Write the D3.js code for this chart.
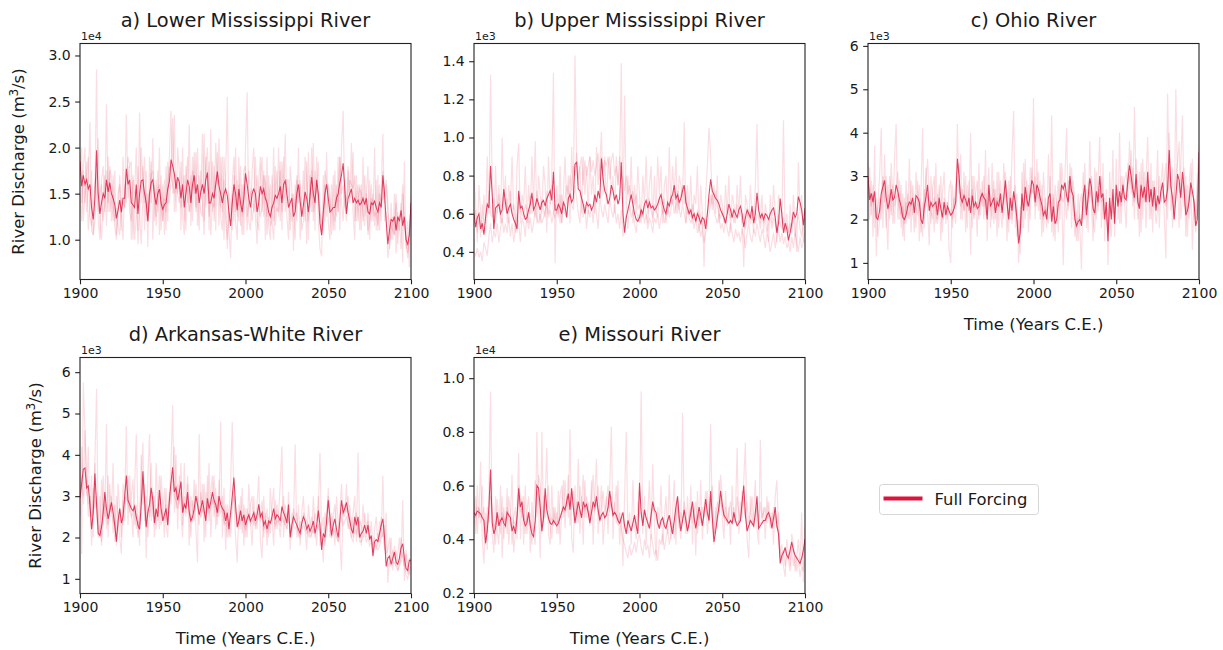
<!DOCTYPE html>
<html>
<head>
<meta charset="utf-8">
<script src="https://cdn.jsdelivr.net/npm/d3@7"></script>
<style>
  body { margin: 0; background: #fff; }
  text { font-family: "DejaVu Sans", sans-serif; fill: #1a1a1a; }
</style>
</head>
<body>
<svg id="fig" width="1223" height="650"></svg>
<script>
// annual values, 1900..2100 (201 per series)
const years = d3.range(1900, 2101);

// a) Lower Mississippi, units of 100 m3/s
const lowerMean = [
185,158,170,160,165,155,160,135,122,145,
197,150,128,140,150,145,165,152,162,150,
145,138,123,132,143,130,145,145,177,160,
165,140,138,135,160,128,150,164,165,150,
140,120,150,162,165,148,138,150,155,140,
133,138,140,155,163,187,180,172,155,168,
162,145,160,135,150,165,158,140,160,170,
150,160,140,152,160,150,165,173,140,140,
150,145,160,174,158,150,140,150,155,148,
130,115,140,160,150,132,155,140,130,145,
172,160,145,135,150,155,150,130,140,158,
150,155,145,140,130,125,135,140,148,145,
150,158,140,160,164,150,135,140,145,125,
130,150,160,142,125,138,152,145,130,148,
168,150,140,165,150,118,105,130,150,160,
145,130,132,135,135,145,150,162,170,183,
155,128,145,150,155,140,145,140,143,138,
140,145,138,145,130,128,140,138,142,135,
130,140,135,170,150,120,95,110,122,120,
125,110,125,120,132,115,125,100,95,105,
140];
const lowerRun1 = [
195,140,180,200,130,160,228,110,105,150,
285,120,100,165,180,130,247,140,175,120,
170,115,100,150,160,110,190,135,236,145,
180,100,170,150,200,110,238,140,180,110,
175,92,190,140,210,120,165,130,200,110,
160,105,180,120,190,240,150,235,130,200,
175,110,200,120,180,140,225,115,190,150,
195,115,170,150,215,120,180,200,110,220,
130,180,110,195,150,135,190,100,170,255,
110,80,160,190,120,100,190,115,160,105,
200,260,120,110,175,200,125,95,165,190,
130,175,100,190,115,100,170,120,180,130,
200,120,185,150,215,125,100,180,155,88,
160,120,200,100,140,175,120,185,100,170,
130,205,110,190,120,90,82,170,120,195,
120,100,160,110,175,125,190,110,200,240,
140,120,180,140,205,130,100,170,120,160,
110,190,125,150,180,100,160,120,200,110,
170,110,150,215,120,130,80,95,140,100,
150,85,130,110,140,75,185,90,120,70,
150];
const lowerRun2 = [
170,200,120,150,185,110,140,175,105,120,
150,210,120,100,140,170,115,190,130,150,
120,175,105,125,170,130,100,160,140,180,
130,120,165,100,125,180,130,95,150,190,
120,150,130,185,100,160,125,175,105,170,
120,165,110,185,140,165,232,130,170,150,
140,185,125,105,160,190,130,170,120,195,
130,155,110,175,140,105,190,160,125,150,
185,120,165,175,115,190,130,165,120,100,
150,140,110,170,130,165,120,180,125,160,
145,110,175,150,120,135,190,120,110,165,
190,125,170,105,140,160,120,100,150,175,
125,175,110,190,130,165,145,110,150,140,
100,170,140,165,110,120,190,160,120,140,
200,120,175,150,185,130,120,105,160,125,
160,150,105,170,120,160,130,190,140,120,
165,130,175,145,150,195,120,145,160,110,
160,120,170,140,110,165,120,150,115,165,
110,160,120,175,140,160,130,115,100,125,
105,140,95,120,90,150,115,100,85,110,
135];
const lowerRun3 = [
150,120,175,140,170,190,125,115,140,160,
175,130,150,160,120,140,175,130,180,165,
140,120,135,115,105,145,140,135,165,190,
180,185,100,150,155,95,130,200,165,140,
150,120,140,170,175,150,115,155,160,140,
120,145,130,160,180,170,160,150,165,150,
165,135,155,170,110,155,130,140,175,160,
135,200,145,130,125,215,135,160,185,105,
140,135,205,160,210,125,110,190,155,90,
130,125,150,120,200,125,160,130,105,175,
180,125,140,150,155,130,145,170,140,125,
135,170,160,125,170,115,120,200,115,135,
130,185,130,145,150,165,165,130,120,150,
135,165,145,160,130,125,150,95,195,135,
175,130,140,160,145,135,110,120,175,160,
155,140,130,130,110,150,130,190,150,160,
135,145,150,165,160,155,170,120,145,155,
150,130,115,150,105,120,145,140,125,130,
115,150,140,145,155,165,140,90,115,110,
105,150,110,125,130,160,120,100,80,105,
140];

// b) Upper Mississippi, units of 10 m3/s
const upperMean = [
60,53,58,60,52,55,49,58,65,63,
85,70,52,63,64,65,60,62,73,66,
60,63,65,60,57,55,52,72,63,64,
60,57,58,62,65,71,62,64,68,65,
62,66,67,64,68,70,72,67,82,62,
62,65,63,60,66,64,58,68,70,66,
68,86,87,73,72,68,65,60,66,64,
65,62,64,70,66,72,68,89,78,72,
70,65,68,75,72,67,70,65,68,87,
60,50,58,62,66,70,65,60,57,56,
58,62,60,65,67,63,66,63,64,62,
63,65,68,70,65,62,60,66,64,68,
70,75,68,70,66,68,72,75,66,63,
60,62,58,60,56,60,58,55,58,57,
52,60,70,78,72,70,68,67,65,62,
60,58,55,60,65,62,58,62,60,58,
62,64,60,53,58,62,60,58,64,55,
60,71,62,58,60,57,60,59,57,60,
62,63,58,50,55,68,60,50,55,52,
46,50,55,61,58,60,69,66,62,54,
63];
const upperRun1 = [
80,65,45,75,60,50,70,55,90,60,
133,75,50,85,60,70,55,100,65,80,
55,75,65,90,60,50,85,97,55,70,
65,85,55,75,60,90,65,98,55,80,
70,60,85,75,50,90,65,80,134,34,
75,60,85,55,70,90,65,80,55,95,
70,143,90,75,85,60,90,70,85,60,
90,70,80,60,95,75,85,103,70,90,
65,85,90,70,80,60,90,75,85,139,
55,122,60,80,65,90,55,75,60,85,
70,55,80,65,90,60,75,85,55,80,
60,90,70,85,55,75,80,60,95,65,
85,70,90,60,80,75,65,108,55,75,
60,80,55,70,65,85,50,75,60,32,
70,85,105,90,65,75,60,80,55,70,
65,55,75,60,80,50,70,65,55,75,
60,80,55,32,70,65,55,75,60,50,
75,107,60,55,70,50,65,60,45,70,
55,75,60,45,70,65,55,109,50,60,
45,65,50,70,55,40,87,60,70,45,
60];
const upperRun2 = [
40,38,42,37,40,35,45,42,38,48,
55,45,50,48,55,45,52,58,50,55,
50,58,48,55,45,52,60,55,45,58,
55,48,60,52,58,50,55,62,58,55,
60,55,58,62,65,58,62,55,60,65,
60,65,55,70,62,68,75,70,80,72,
85,80,92,78,85,90,75,88,80,85,
90,82,88,80,85,92,78,90,82,88,
85,90,78,88,92,80,85,75,90,80,
78,72,80,70,75,68,72,65,70,62,
65,58,62,55,60,52,58,55,50,58,
55,60,52,58,62,55,60,65,58,62,
68,60,65,72,62,58,65,60,55,62,
58,55,60,52,58,50,55,48,52,45,
50,55,60,65,70,62,58,55,60,52,
55,50,58,52,48,55,50,45,52,48,
50,45,52,48,42,50,55,48,45,52,
48,55,50,45,52,48,42,50,46,40,
45,50,42,48,52,45,50,44,48,42,
45,40,48,42,50,45,40,48,42,45,
50];
const upperRun3 = [
55,62,50,58,48,65,55,50,60,72,
60,58,68,55,62,75,60,55,70,62,
68,55,72,60,65,58,50,70,62,60,
58,65,62,55,70,60,68,58,72,65,
55,68,62,58,72,60,65,75,60,58,
62,58,70,55,65,60,58,68,72,65,
62,75,68,60,55,70,58,65,52,62,
58,65,55,68,60,52,70,62,58,65,
60,55,68,62,58,65,55,60,52,62,
48,55,60,52,65,58,62,55,50,60,
55,62,58,65,60,55,68,62,58,65,
62,58,70,65,60,68,55,62,65,70,
65,72,60,68,62,70,75,65,72,60,
62,58,65,60,55,62,58,60,52,58,
55,60,65,70,62,68,72,65,60,58,
62,58,55,65,60,58,62,55,60,65,
58,62,55,60,52,58,62,55,58,62,
55,60,58,52,60,55,58,50,55,58,
52,58,55,50,60,55,52,58,50,55,
50,55,52,58,48,55,60,52,48,55,
58];

// c) Ohio, units of 10 m3/s
const ohioMean = [
300,245,260,240,265,205,200,220,260,275,
290,250,225,240,270,245,250,280,265,245,
230,205,200,210,230,240,235,250,215,255,
250,240,200,190,230,250,280,220,240,230,
235,240,210,250,225,205,240,210,230,220,
210,215,225,240,340,300,250,240,255,245,
230,250,215,255,230,240,225,230,250,260,
250,245,200,280,230,240,250,215,240,230,
260,215,250,290,240,200,250,220,265,240,
200,145,170,260,220,275,245,230,260,290,
280,240,280,270,250,235,210,220,200,250,
260,195,230,190,200,240,245,280,270,285,
255,240,300,265,255,200,185,195,200,185,
250,280,210,250,295,275,225,215,265,240,
300,250,260,200,240,150,250,200,270,190,
280,230,265,240,280,250,245,290,325,300,
270,250,305,240,225,280,250,275,240,310,
240,270,230,275,220,255,235,265,285,240,
245,270,360,275,250,200,250,305,290,250,
310,270,210,220,240,285,265,240,185,200,
355];
const ohioRun1 = [
330,200,290,160,370,115,240,300,410,180,
350,220,130,300,260,190,340,420,200,290,
180,260,150,290,200,340,170,280,230,180,
290,150,260,410,180,320,220,140,300,250,
170,330,200,280,150,260,310,190,240,130,
100,280,220,190,420,260,350,200,310,170,
280,220,400,180,300,240,160,330,210,290,
200,360,150,280,220,330,190,270,160,310,
220,180,330,260,150,290,200,350,450,180,
260,100,230,180,330,200,290,170,320,260,
480,200,340,220,290,160,310,240,180,350,
200,440,160,280,230,170,330,260,95,300,
410,220,330,180,290,240,150,260,180,85,
310,200,270,170,380,230,150,320,200,290,
390,180,330,150,270,95,310,220,360,160,
340,200,400,190,300,240,180,330,270,360,
230,460,280,200,310,170,340,240,300,390,
200,330,170,290,240,360,180,280,330,210,
110,490,300,220,320,200,500,280,180,330,
440,230,300,160,280,330,130,250,200,300,
370];
const ohioRun2 = [
250,320,210,280,180,250,160,200,240,300,
260,180,280,200,330,250,190,270,310,200,
280,160,250,190,260,210,290,230,170,310,
230,280,170,240,200,290,340,250,190,270,
300,190,260,220,300,170,250,230,200,270,
290,180,240,280,310,330,200,270,220,300,
180,290,120,300,210,260,290,200,270,230,
300,210,260,320,180,250,290,200,310,180,
290,240,200,310,260,170,300,190,250,280,
160,200,120,310,180,340,220,280,200,320,
260,300,230,310,200,280,170,250,220,190,
300,170,260,150,240,290,200,330,280,250,
200,290,260,320,230,160,220,150,240,260,
200,330,180,290,250,300,200,170,310,220,
260,300,200,250,200,180,220,160,240,200,
250,270,190,300,260,290,310,250,380,260,
320,200,340,270,160,330,200,310,180,280,
270,200,290,250,190,220,300,240,260,290,
330,200,400,300,180,250,300,330,380,200,
250,320,160,280,200,250,340,210,170,250,
330];
const ohioRun3 = [
280,270,230,260,220,200,230,250,200,290,
240,300,220,260,210,280,230,250,260,230,
210,230,190,240,220,200,250,210,240,230,
210,250,200,160,270,230,260,230,220,200,
250,220,190,240,230,200,210,230,240,210,
220,200,250,230,300,280,230,250,220,240,
240,220,250,270,200,230,240,210,250,260,
230,260,210,250,240,200,270,220,250,240,
250,220,240,280,230,210,240,200,260,230,
210,160,190,250,220,260,230,240,250,270,
260,230,270,250,240,220,200,230,210,240,
240,210,250,200,190,230,260,250,240,270,
250,230,280,260,240,210,190,200,210,190,
230,260,220,240,270,250,230,210,250,230,
270,240,250,210,220,170,240,210,250,200,
260,240,250,230,270,240,260,280,300,280,
260,240,290,250,230,270,260,250,240,290,
250,270,240,260,230,250,240,260,270,250,
230,260,320,280,240,220,260,290,270,250,
290,260,220,230,250,270,260,240,200,210,
340];

// d) Arkansas-White, units of 10 m3/s
const arkMean = [
295,330,365,368,320,325,280,220,260,355,
280,210,205,225,260,310,270,245,265,285,
260,230,190,240,270,235,250,300,350,290,
280,270,265,275,250,230,220,280,360,290,
225,260,280,320,290,235,270,250,315,270,
240,255,270,230,290,335,370,310,320,290,
310,335,260,280,270,310,260,240,250,270,
300,280,255,270,290,265,240,295,270,285,
310,290,280,260,300,280,270,265,240,260,
220,260,300,345,280,225,240,265,240,255,
230,245,255,240,250,260,240,255,280,250,
260,230,240,220,240,235,250,270,245,255,
250,240,275,260,250,235,280,200,230,250,
240,230,220,210,235,250,240,220,230,215,
225,240,210,230,265,230,170,210,200,240,
290,250,205,230,245,220,200,240,290,260,
270,285,260,240,220,210,250,230,250,200,
210,215,230,210,230,195,205,155,190,195,
190,210,230,245,200,130,150,155,135,150,
165,140,135,150,175,185,150,125,120,145,
145];
const arkRun1 = [
400,160,575,460,300,420,250,350,200,380,
560,220,300,180,350,250,475,200,330,260,
380,190,300,250,200,160,330,280,470,230,
350,270,200,320,450,250,180,400,280,330,
150,350,450,240,300,200,380,270,220,350,
280,200,320,250,300,380,520,260,400,220,
350,260,200,380,250,330,180,300,260,340,
220,140,450,250,330,190,310,260,380,200,
290,350,220,300,250,480,200,320,170,280,
250,330,480,290,200,140,280,220,320,180,
270,200,330,240,180,300,220,280,350,190,
150,300,230,270,200,320,250,180,290,220,
260,330,420,200,280,220,310,170,260,230,
425,200,280,180,260,300,220,170,280,230,
200,300,220,180,260,405,200,140,260,230,
320,200,260,230,180,300,240,200,120,280,
250,330,220,280,200,260,300,190,405,220,
180,280,230,200,260,190,240,170,220,250,
180,240,200,350,170,260,90,150,200,120,
180,130,160,200,140,290,95,170,130,110,
150];
const arkRun2 = [
250,420,300,460,350,250,300,180,320,270,
300,250,200,340,230,280,220,350,250,300,
210,280,180,330,260,200,290,240,320,350,
260,300,340,230,280,200,250,330,430,240,
300,200,260,380,250,300,220,280,350,230,
260,320,230,200,310,280,350,420,270,330,
280,380,230,300,260,350,270,200,290,240,
330,280,230,310,260,330,200,350,240,310,
350,250,320,230,340,270,300,230,280,200,
250,200,280,320,260,250,220,300,210,280,
200,270,240,280,300,230,260,220,280,250,
290,200,260,180,250,210,270,320,220,280,
240,200,260,300,230,260,240,230,200,270,
250,260,200,240,220,260,250,240,200,230,
250,210,260,240,300,180,220,250,180,260,
300,260,200,250,280,210,190,260,330,250,
280,260,300,220,250,200,230,260,200,240,
230,200,260,220,240,200,190,180,200,170,
210,190,250,200,230,160,170,200,140,170,
150,170,120,140,200,150,130,160,110,150,
140];
const arkRun3 = [
300,350,280,330,340,280,300,250,270,380,
270,200,230,190,260,300,250,230,280,260,
240,230,200,220,270,240,230,290,300,280,
270,250,260,280,220,240,230,250,340,300,
230,270,250,300,310,230,260,240,300,280,
250,240,280,230,270,320,350,300,290,270,
300,310,270,260,280,290,270,250,240,260,
280,300,260,250,270,260,250,280,260,270,
290,280,270,250,280,260,270,240,230,260,
200,250,280,300,260,230,250,240,250,230,
220,240,250,230,240,250,230,240,260,240,
250,220,230,210,230,240,240,250,230,240,
240,230,250,240,230,220,260,210,220,230,
220,230,210,200,220,230,220,210,220,200,
210,220,200,220,230,210,180,200,190,210,
250,230,200,210,220,200,190,210,250,230,
240,250,230,220,200,190,220,210,230,190,
190,200,210,190,200,180,190,160,180,180,
170,180,200,210,180,140,130,140,130,140,
140,130,120,130,150,160,130,110,100,120,
130];

// e) Missouri, units of 10 m3/s
const missouriMean = [
500,490,505,500,495,480,470,385,430,520,
660,460,420,440,500,450,470,480,460,450,
500,490,480,430,450,420,480,590,520,540,
470,450,460,500,450,420,410,470,600,590,
520,430,480,590,510,480,460,455,470,460,
450,460,480,500,520,510,540,570,510,590,
520,460,500,540,510,480,540,520,530,500,
460,500,540,520,560,510,470,490,500,480,
490,520,580,530,490,500,490,470,460,480,
500,450,420,470,450,430,460,490,450,420,
610,500,450,510,480,460,440,490,540,510,
500,460,440,470,480,450,440,470,490,450,
420,470,520,560,480,430,470,510,470,430,
460,500,540,480,440,480,520,490,450,500,
550,500,470,580,480,390,430,480,520,580,
530,490,480,470,460,470,460,500,470,450,
460,470,540,600,490,430,450,470,460,450,
500,560,440,450,460,470,470,490,500,480,
440,480,520,450,420,310,340,350,370,340,
330,360,390,360,340,330,320,310,330,360,
400];
const missouriRun1 = [
550,420,600,480,690,400,310,500,360,580,
950,420,350,560,430,380,600,330,520,440,
590,380,480,640,350,420,500,720,400,560,
380,600,420,500,350,540,420,380,800,520,
330,800,450,560,740,420,380,600,450,520,
420,580,380,500,620,440,560,480,810,400,
350,600,460,700,420,560,380,620,480,540,
450,620,380,560,700,420,520,600,380,480,
560,420,600,820,400,540,460,620,380,500,
300,560,800,420,500,380,620,450,400,540,
480,950,420,560,380,500,620,400,680,460,
320,520,450,600,380,480,560,420,640,400,
500,620,380,560,450,400,870,480,420,560,
440,600,380,520,340,580,450,620,400,520,
580,420,500,830,450,380,520,440,620,560,
480,400,580,450,520,380,600,460,500,740,
420,540,480,620,760,400,330,560,450,500,
620,440,380,770,460,520,400,560,480,440,
500,380,560,620,420,350,380,300,260,400,
350,300,420,380,280,330,400,300,500,240,
380];
const missouriRun2 = [
450,560,420,520,480,600,430,380,520,460,
560,500,450,380,550,480,420,560,400,480,
420,560,500,380,480,520,400,600,560,480,
560,420,500,560,460,380,500,620,480,640,
600,420,560,480,520,600,450,400,520,460,
500,420,560,600,480,620,520,640,450,560,
580,480,540,460,600,520,640,480,560,500,
480,560,640,500,540,600,460,520,580,500,
540,600,500,560,480,520,600,450,500,440,
400,380,350,330,380,340,360,390,350,400,
420,370,340,400,360,380,330,420,380,340,
360,320,400,380,420,360,400,440,380,420,
460,400,480,520,440,500,460,540,480,420,
480,520,460,500,540,420,500,460,520,480,
520,580,460,540,600,420,480,540,500,640,
560,480,520,460,500,540,480,520,460,560,
500,460,580,520,480,540,460,500,560,440,
480,520,460,540,480,500,520,460,540,480,
460,520,480,440,500,340,320,360,300,340,
320,280,360,300,340,280,320,260,300,280,
450];
const missouriRun3 = [
500,480,520,510,460,490,520,400,450,500,
600,480,440,460,500,470,450,500,480,460,
520,480,460,440,470,450,480,560,500,520,
480,460,470,500,460,440,430,470,580,560,
500,450,470,560,500,470,460,480,470,460,
460,470,490,500,520,500,530,560,520,560,
520,470,500,530,500,490,520,510,520,500,
470,500,530,510,540,500,480,490,500,480,
490,510,560,520,490,500,480,470,460,480,
480,450,430,470,450,440,460,480,460,430,
580,500,460,500,480,470,450,480,520,500,
480,460,450,470,480,460,450,470,480,460,
440,470,500,540,480,450,470,500,470,440,
460,490,520,480,450,470,500,480,460,490,
530,490,470,560,480,420,440,470,500,550,
510,480,470,470,460,470,460,490,470,460,
470,470,520,570,490,440,450,470,460,460,
490,540,450,460,460,470,470,480,490,470,
450,470,500,450,430,330,350,350,360,340,
340,350,380,350,340,330,330,320,330,350,
380];

// y tick values, in the axis' own 1eN units
const lowerTicks = [1.0, 1.5, 2.0, 2.5, 3.0];
const upperTicks = [0.4, 0.6, 0.8, 1.0, 1.2, 1.4];
const ohioTicks = [1, 2, 3, 4, 5, 6];
const arkTicks = [1, 2, 3, 4, 5, 6];
const missouriTicks = [0.2, 0.4, 0.6, 0.8, 1.0];
const yearTicks = [1900, 1950, 2000, 2050, 2100];

const titles = ["a) Lower Mississippi River", "b) Upper Mississippi River", "c) Ohio River",
                "d) Arkansas-White River", "e) Missouri River"];

const panels = [
  {title: titles[0], unit: 100, exp: 4, mean: lowerMean, runs: [lowerRun1, lowerRun2, lowerRun3],
   ticks: lowerTicks, fmt: ".1f", lim: [0.568, 3.13]},
  {title: titles[1], unit: 10, exp: 3, mean: upperMean, runs: [upperRun1, upperRun2, upperRun3],
   ticks: upperTicks, fmt: ".1f", lim: [0.255, 1.493]},
  {title: titles[2], unit: 10, exp: 3, mean: ohioMean, runs: [ohioRun1, ohioRun2, ohioRun3],
   ticks: ohioTicks, fmt: "d", lim: [0.617, 6.055]},
  {title: titles[3], unit: 10, exp: 3, mean: arkMean, runs: [arkRun1, arkRun2, arkRun3],
   ticks: arkTicks, fmt: "d", lim: [0.645, 6.355]},
  {title: titles[4], unit: 10, exp: 4, mean: missouriMean, runs: [missouriRun1, missouriRun2, missouriRun3],
   ticks: missouriTicks, fmt: ".1f", lim: [0.198, 1.077]}
];

// layout
const boxes = [
  {x: 80, y: 43.5, ylab: 24, xlab: false},
  {x: 474, y: 43.5, ylab: null, xlab: false},
  {x: 868, y: 43.5, ylab: null, xlab: true},
  {x: 80, y: 357.5, ylab: 41, xlab: true},
  {x: 474, y: 357.5, ylab: null, xlab: true}
];
const w = 331, h = 236;
const lineColor = "crimson";

const svg = d3.select("#fig");

panels.forEach((p, i) => {
  const b = boxes[i];
  const g = svg.append("g").attr("transform", `translate(${b.x},${b.y})`);

  const x = d3.scaleLinear().domain([1900, 2100]).range([0, w]);
  const scale = Math.pow(10, p.exp);
  const y = d3.scaleLinear().domain([p.lim[0] * scale, p.lim[1] * scale]).range([h, 0]);

  const clipId = "clip" + i;
  g.append("clipPath").attr("id", clipId)
    .append("rect").attr("width", w).attr("height", h);

  const line = d3.line()
    .x((d, k) => x(years[k]))
    .y(d => y(d * p.unit));

  const plot = g.append("g").attr("clip-path", `url(#${clipId})`);
  p.runs.forEach(r => {
    plot.append("path").datum(r)
      .attr("d", line)
      .attr("fill", "none")
      .attr("stroke", lineColor)
      .attr("stroke-opacity", 0.14)
      .attr("stroke-width", 1.2);
  });
  plot.append("path").datum(p.mean)
    .attr("d", line)
    .attr("fill", "none")
    .attr("stroke", lineColor)
    .attr("stroke-opacity", 0.8)
    .attr("stroke-width", 1.05);

  // axes
  const xAxis = g.append("g").attr("transform", `translate(0,${h})`)
    .call(d3.axisBottom(x).tickValues(yearTicks).tickFormat(d3.format("d"))
      .tickSize(4.8).tickSizeOuter(0).tickPadding(3.5));
  const yAxis = g.append("g")
    .call(d3.axisLeft(y).tickValues(p.ticks.map(t => t * scale))
      .tickFormat(v => d3.format(p.fmt)(v / scale))
      .tickSize(4.8).tickSizeOuter(0).tickPadding(4.5));
  [xAxis, yAxis].forEach(a => {
    a.select(".domain").remove();
    a.selectAll("line").attr("stroke", "#222").attr("stroke-width", 1.1);
    a.selectAll("text").attr("font-family", "DejaVu Sans").attr("font-size", 14).attr("fill", "#1a1a1a");
  });

  g.append("rect").attr("width", w).attr("height", h)
    .attr("fill", "none").attr("stroke", "#222").attr("stroke-width", 1.1);

  // offset label like 1e4
  g.append("text").attr("x", 1).attr("y", -3.5)
    .attr("font-size", 11)
    .text("1e" + p.exp);

  g.append("text")
    .attr("x", w / 2).attr("y", -16.5)
    .attr("text-anchor", "middle")
    .attr("font-size", 19.4)
    .text(p.title);

  if (b.xlab) {
    g.append("text")
      .attr("x", w / 2).attr("y", h + 50.5)
      .attr("text-anchor", "middle")
      .attr("font-size", 16.5)
      .text("Time (Years C.E.)");
  }
  if (b.ylab !== null) {
    const t = svg.append("text")
      .attr("transform", `translate(${b.ylab},${b.y + h / 2}) rotate(-90)`)
      .attr("text-anchor", "middle")
      .attr("font-size", 16.5);
    t.append("tspan").text("River Discharge (m");
    t.append("tspan").attr("dy", -6.5).attr("font-size", 11.5).text("3");
    t.append("tspan").attr("dy", 6.5).text("/s)");
  }
});

// legend
const leg = svg.append("g").attr("transform", "translate(879.5,484.5)");
leg.append("rect").attr("width", 159).attr("height", 30).attr("rx", 3)
  .attr("fill", "#fff").attr("stroke", "#d6d6d6").attr("stroke-width", 1);
leg.append("line").attr("x1", 4).attr("x2", 43).attr("y1", 14).attr("y2", 14)
  .attr("stroke", lineColor).attr("stroke-width", 4);
leg.append("text").attr("x", 55).attr("y", 20).attr("font-size", 16.4).text("Full Forcing");
</script>
</body>
</html>
